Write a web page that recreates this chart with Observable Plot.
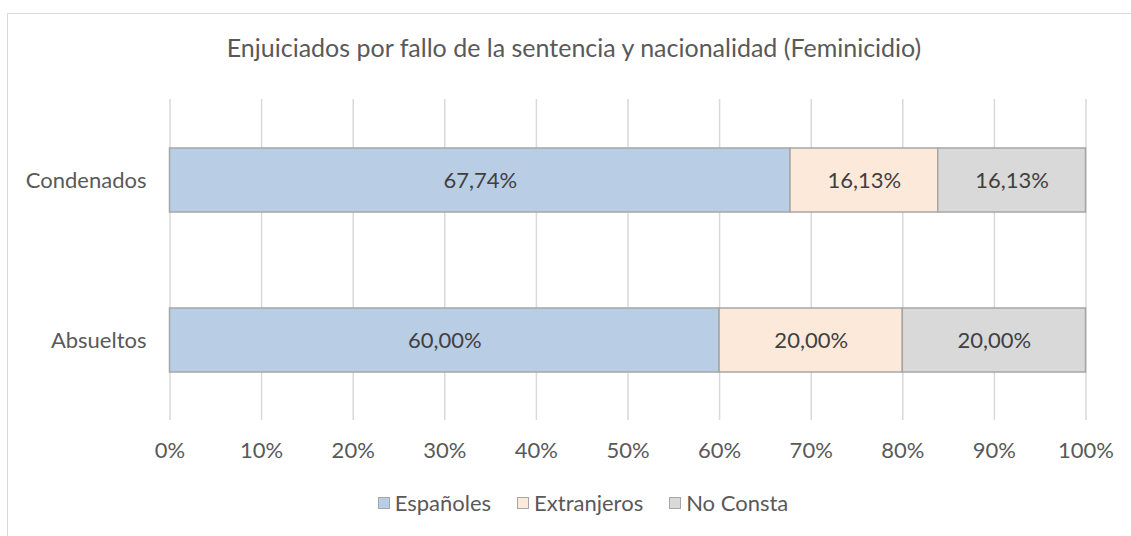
<!DOCTYPE html>
<html>
<head>
<meta charset="utf-8">
<script src="https://cdn.jsdelivr.net/npm/d3@7"></script>
<script src="https://cdn.jsdelivr.net/npm/@observablehq/plot@0.6"></script>
<style>
  html, body { margin: 0; padding: 0; background: #fff; overflow: hidden; }
  #wrap { position: relative; width: 1131px; height: 536px; font-family: Lato, "Open Sans", sans-serif; color: #595959; }
  #frame { position: absolute; left: 7px; top: 13px; width: 1140px; height: 540px; border: 1.5px solid #d9d9d9; box-sizing: border-box; }
  #title { position: absolute; left: 17px; width: 1114px; top: 30px; text-align: center; font-size: 25px; line-height: 34px; color: #595959; white-space: nowrap; }
  #chart { position: absolute; left: 0; top: 0; }
  #legend { position: absolute; left: 33px; width: 1100px; top: 489px; display: flex; justify-content: center; align-items: center; font-size: 22px; line-height: 28px; color: #595959; }
  .item { display: flex; align-items: center; margin: 0 13px; }
  .sw { width: 12px; height: 12px; border: 1.5px solid #a6a6a6; margin-right: 5px; box-sizing: border-box; }
</style>
</head>
<body>
<div id="wrap">
  <div id="frame"></div>
  <div id="title">Enjuiciados por fallo de la sentencia y nacionalidad (Feminicidio)</div>
  <div id="chart"></div>
  <div id="legend"></div>
</div>
<script>
const categories = ["Condenados", "Absueltos"];
const series = ["Españoles", "Extranjeros", "No Consta"];
const espanoles = [67.74, 60.00];
const extranjeros = [16.13, 20.00];
const noConsta = [16.13, 20.00];
const xTicks = [0, 10, 20, 30, 40, 50, 60, 70, 80, 90, 100];
const colors = ["#b9cde5", "#fde9d9", "#d9d9d9"];

const seriesValues = [espanoles, extranjeros, noConsta];
const data = [];
categories.forEach((cat, i) => {
  series.forEach((nat, j) => {
    data.push({cat, nat, value: seriesValues[j][i]});
  });
});

const fmt = v => v.toFixed(2).replace(".", ",") + "%";

const plot = Plot.plot({
  width: 1131,
  height: 480,
  marginLeft: 169.5,
  marginRight: 45.5,
  marginTop: 99,
  marginBottom: 60,
  style: { fontFamily: "Lato, 'Open Sans', sans-serif", fontSize: "22px", color: "#595959", background: "transparent" },
  x: { domain: [0, 100] },
  y: { domain: categories, paddingInner: 0.6, paddingOuter: 0.3 },
  color: { domain: series, range: colors },
  marks: [
    Plot.gridX(xTicks, { stroke: "#d9d9d9", strokeOpacity: 1, strokeWidth: 1.5 }),
    Plot.barX(data, { x: "value", y: "cat", fill: "nat", stroke: "#a6a6a6", strokeWidth: 1.5 }),
    Plot.text(data, Plot.stackX({ x: "value", y: "cat", z: "nat", text: d => fmt(d.value), fill: "#404040", fontSize: 22 })),
    Plot.axisX({ ticks: xTicks, tickFormat: d => d + "%", tickSize: 0, tickPadding: 22, label: null, fontSize: 22 }),
    Plot.axisY({ tickSize: 0, tickPadding: 23.5, label: null, fontSize: 22 })
  ]
});
document.getElementById("chart").appendChild(plot);

const legend = document.getElementById("legend");
series.forEach((s, i) => {
  const item = document.createElement("div");
  item.className = "item";
  const sw = document.createElement("div");
  sw.className = "sw";
  sw.style.background = colors[i];
  const lab = document.createElement("span");
  lab.textContent = s;
  item.appendChild(sw);
  item.appendChild(lab);
  legend.appendChild(item);
});
</script>
</body>
</html>
